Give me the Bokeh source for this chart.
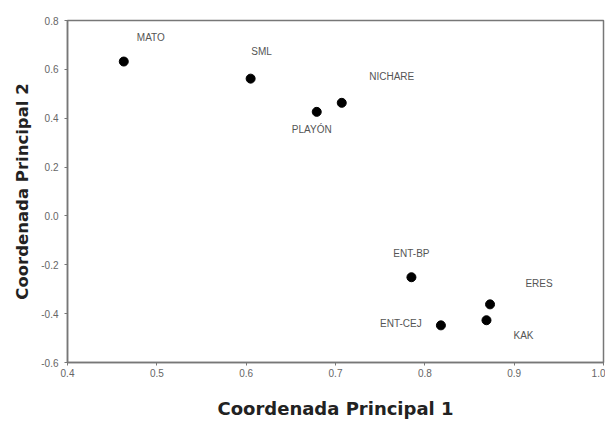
from bokeh.plotting import figure
from bokeh.models import ColumnDataSource, FixedTicker, Range1d, NumeralTickFormatter
from bokeh.core.properties import value
from bokeh.embed import file_html
from bokeh.resources import INLINE

sites = ["MATO", "SML", "PLAYÓN", "NICHARE", "ENT-BP", "ENT-CEJ", "ERES", "KAK"]
coord1 = [0.463, 0.605, 0.679, 0.707, 0.785, 0.818, 0.873, 0.869]
coord2 = [0.632, 0.562, 0.426, 0.463, -0.251, -0.448, -0.362, -0.427]
x_ticks = [0.4, 0.5, 0.6, 0.7, 0.8, 0.9, 1.0]
y_ticks = [0.8, 0.6, 0.4, 0.2, 0.0, -0.2, -0.4, -0.6]

# label offsets in screen pixels (layout, not data)
label_dx = [27, 11, -5, 50, 0, -40, 49, 37]
label_dy = [-24, -27, 18, -26, -24, -2, -21, 15]

src = ColumnDataSource(dict(x=coord1, y=coord2, name=sites, dx=label_dx, dy=label_dy))

p = figure(width=605, height=421, output_backend="svg", toolbar_location=None,
           x_range=Range1d(0.4, 1.0), y_range=Range1d(-0.6, 0.8),
           min_border_left=67, min_border_right=2, min_border_top=20, min_border_bottom=50)

p.scatter("x", "y", source=src, size=9, color="black")
p.text("x", "y", text="name", source=src, x_offset="dx", y_offset="dy",
       text_align="center", text_baseline="middle", text_font=value("Liberation Sans"),
       text_font_size="10px", text_color="#555555")

p.grid.visible = False
p.outline_line_color = "#777777"
p.outline_line_width = 1.5
p.background_fill_color = "white"
p.border_fill_color = "white"

p.xaxis.ticker = FixedTicker(ticks=x_ticks)
p.yaxis.ticker = FixedTicker(ticks=y_ticks)
for ax in (p.xaxis[0], p.yaxis[0]):
    ax.formatter = NumeralTickFormatter(format="0.0")
    ax.axis_line_color = "#777777"
    ax.axis_line_width = 1.5
    ax.major_tick_line_color = "#777777"
    ax.major_tick_in = 0
    ax.major_tick_out = 3
    ax.minor_tick_line_color = None
    ax.major_label_text_font = "Liberation Sans"
    ax.major_label_text_font_size = "10px"
    ax.major_label_text_color = "#666666"
    ax.axis_label_text_font = "DejaVu Sans"
    ax.axis_label_text_font_style = "bold"
    ax.axis_label_text_font_size = "18px"
    ax.axis_label_text_color = "#222222"

p.xaxis.axis_label = "Coordenada Principal 1"
p.yaxis.axis_label = "Coordenada Principal 2"
p.yaxis.axis_label_text_font_size = "16.5px"
p.xaxis.major_label_standoff = 3
p.xaxis.axis_label_standoff = 18
p.yaxis.major_label_standoff = 6
p.yaxis.axis_label_standoff = 6

open("out.html", "w").write(file_html(p, INLINE))
